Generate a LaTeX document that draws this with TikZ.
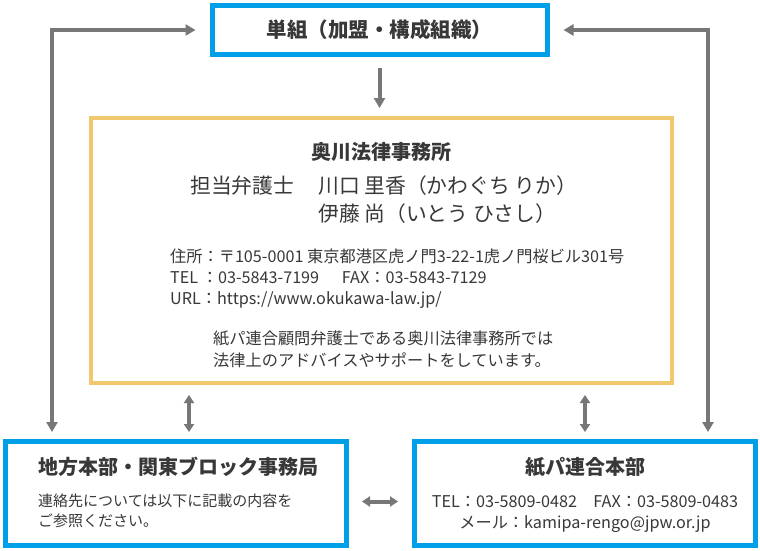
\documentclass[tikz,border=0pt]{standalone}
\usepackage{fontspec}
\setmainfont{Noto Sans CJK JP}
\usetikzlibrary{arrows.meta}
\definecolor{kblue}{HTML}{009FE8}
\definecolor{kyellow}{HTML}{F2C86E}
\definecolor{kgray}{HTML}{777777}
\definecolor{ktext}{HTML}{383838}

\begin{document}
\begin{tikzpicture}[x=1pt,y=-1pt,
	bluebox/.style={draw=kblue, line width=5pt, fill=white, inner sep=0pt, minimum width=341pt, minimum height=104pt},
	bigtitle/.style={text=ktext, inner sep=0pt, font=\fontsize{20}{24}\selectfont\bfseries},
	person/.style={text=ktext, inner sep=0pt, anchor=west, font=\fontsize{20.8}{24}\selectfont},
	small/.style={text=ktext, inner sep=0pt, anchor=west, font=\fontsize{16.2}{20}\selectfont},
	looparr/.style={kgray, line width=4pt, {Triangle[length=10pt,width=11pt]}-{Triangle[length=10pt,width=11pt]}},
	arr/.style={kgray, line width=4pt, -{Triangle[length=10pt,width=11pt]}},
	dblarr/.style={kgray, line width=4pt, {Triangle[length=8pt,width=10pt]}-{Triangle[length=8pt,width=10pt]}}]
	\useasboundingbox[fill=white] (0,0) rectangle (760,550);
	\node[bluebox, bigtitle, font=\fontsize{20.5}{24}\selectfont\bfseries, minimum width=335pt, minimum height=49pt] (tanso) at (379.5,30) {単組（加盟・構成組織）};
	\node[draw=kyellow, line width=4pt, minimum width=581pt, minimum height=265pt] (law) at (381.5,250.5) {};
	\node[bigtitle] (lawname) at (381,152) {奥川法律事務所};
	\node[person] (tanto) at (190,186) {担当弁護士};
	\node[person] (kawaguchi) at (318,186) {川口 里香（かわぐち りか）};
	\node[person] (ito) at (318,214) {伊藤 尚（いとう ひさし）};
	\node[small] (addr) at (170,256) {住所：〒105-0001 東京都港区虎ノ門3-22-1虎ノ門桜ビル301号};
	\node[small] (lawtel) at (170,278) {TEL\ ：03-5843-7199\hspace{1.4em}FAX：03-5843-7129};
	\node[small] (lawurl) at (170,300) {URL：https://www.okukawa-law.jp/};
	\node[small] (note1) at (213,338) {紙パ連合顧問弁護士である奥川法律事務所では};
	\node[small] (note2) at (213,360) {法律上のアドバイスやサポートをしています。};
	\node[bluebox] (chiho) at (176,493.5) {};
	\node[bigtitle, anchor=west] (chihoname) at (38,467) {地方本部・関東ブロック事務局};
	\node[small, font=\fontsize{15}{20}\selectfont] (chiho1) at (38,501) {連絡先については以下に記載の内容を};
	\node[small, font=\fontsize{15}{20}\selectfont] (chiho2) at (38,521) {ご参照ください。};
	\node[bluebox] (honbu) at (585,493.5) {};
	\node[bigtitle] (honbuname) at (585,467) {紙パ連合本部};
	\node[small, anchor=center] (honbutel) at (585,502) {TEL：03-5809-0482\quad FAX：03-5809-0483};
	\node[small, anchor=center] (honbumail) at (585,524) {メール：kamipa-rengo@jpw.or.jp};
	\coordinate (lx) at (52,0);
	\coordinate (rx) at (708,0);
	\coordinate (lv) at (189,0);
	\draw[arr] ([yshift=-11pt]tanso.south) -- ([yshift=8pt]law.north -| tanso.south);
	\draw[looparr] ([yshift=7pt]chiho.north -| lx) |- ([xshift=-14pt]tanso.west);
	\draw[looparr] ([yshift=7pt]honbu.north -| rx) |- ([xshift=14pt]tanso.east);
	\draw[dblarr] ([yshift=-10pt]law.south -| lv) -- ([yshift=7pt]chiho.north -| lv);
	\draw[dblarr] ([yshift=-10pt]law.south -| honbu) -- ([yshift=7pt]honbu.north);
	\draw[dblarr] ([xshift=13pt,yshift=-8pt]chiho.east) -- ([xshift=-14pt,yshift=-8pt]honbu.west);
\end{tikzpicture}
\end{document}
